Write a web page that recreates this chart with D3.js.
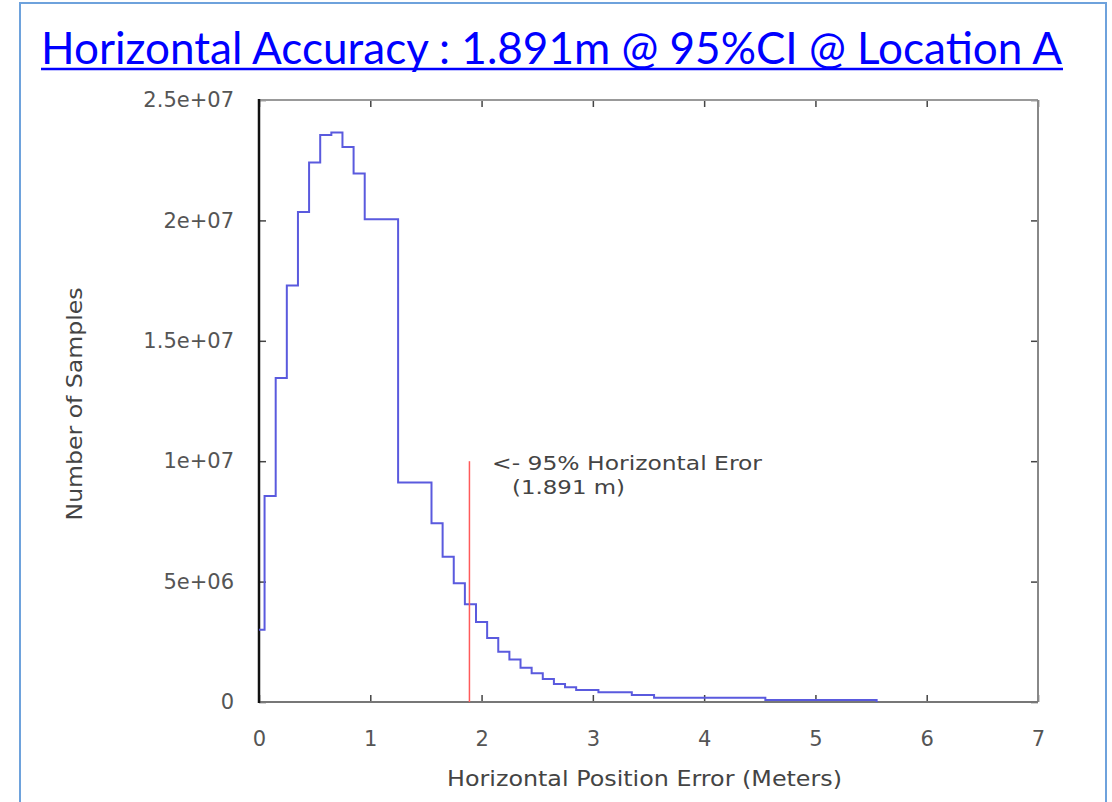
<!DOCTYPE html>
<html><head><meta charset="utf-8">
<script src="https://cdn.jsdelivr.net/npm/d3@7"></script>
<style>
html,body{margin:0;padding:0;background:#fff;}
svg{display:block;}
</style></head><body>
<svg id="chart" width="1112" height="802"></svg>
<script>
// ---- data ----
const titleText = "Horizontal Accuracy : 1.891m @ 95%CI @ Location A";
const xLabel = "Horizontal Position Error (Meters)";
const yLabel = "Number of Samples";
const noteLine1 = "<- 95% Horizontal Eror";
const noteLine2 = "(1.891 m)";
const xTicks = [0, 1, 2, 3, 4, 5, 6, 7];
const xTickLabels = ["0", "1", "2", "3", "4", "5", "6", "7"];
const yTicks = [0, 5e6, 1e7, 1.5e7, 2e7, 2.5e7];
const yTickLabels = ["0", "5e+06", "1e+07", "1.5e+07", "2e+07", "2.5e+07"];
// histogram steps: left edge of each step (m) and sample count
const binStart = [0, 0.05, 0.15, 0.25, 0.35, 0.45, 0.55, 0.65, 0.75, 0.85, 0.95, 1.25, 1.55, 1.65, 1.75, 1.85, 1.95, 2.05, 2.15, 2.25, 2.35, 2.45, 2.55, 2.65, 2.75, 2.85, 3.05, 3.35, 3.55, 4.55, 5.55];
const binCount = [3.0e6, 8.55e6, 13.45e6, 17.3e6, 20.35e6, 22.4e6, 23.55e6, 23.65e6, 23.05e6, 21.95e6, 20.05e6, 9.12e6, 7.42e6, 6.03e6, 4.93e6, 4.06e6, 3.32e6, 2.66e6, 2.09e6, 1.77e6, 1.42e6, 1.19e6, 0.95e6, 0.75e6, 0.61e6, 0.50e6, 0.40e6, 0.29e6, 0.18e6, 0.08e6, 0];
const ci95 = 1.891;
const ciMarkerTop = 1e7;
const xDomain = [0, 7];
const yDomain = [0, 2.5e7];

// ---- layout ----
const plot = {left: 259, right: 1038, top: 100, bottom: 702};
const svg = d3.select("#chart");
const font = "'DejaVu Sans', sans-serif";

// page frame
svg.append("path")
  .attr("d", "M20,802 V3 H1106 V802")
  .attr("fill", "none").attr("stroke", "#6ea2dc").attr("stroke-width", 2);

// title
svg.append("text")
  .attr("x", 41).attr("y", 64)
  .attr("font-family", "Lato, 'Open Sans', sans-serif")
  .attr("font-size", 45)
  .attr("fill", "#0000ff")
  .attr("textLength", 1021).attr("lengthAdjust", "spacingAndGlyphs")
  .text(titleText);
svg.append("line")
  .attr("x1", 41).attr("x2", 1063).attr("y1", 69).attr("y2", 69)
  .attr("stroke", "#0000ff").attr("stroke-width", 2.5);

const x = d3.scaleLinear().domain(xDomain).range([plot.left, plot.right]);
const y = d3.scaleLinear().domain(yDomain).range([plot.bottom, plot.top]);

// axes with inward ticks
function styleAxis(g) {
  g.select(".domain").remove();
  g.selectAll(".tick line").attr("stroke", "#444").attr("stroke-width", 1.5);
  g.selectAll(".tick text").attr("font-family", font).attr("font-size", 21).attr("fill", "#555");
}
const gx = svg.append("g").attr("transform", `translate(0,${plot.bottom})`)
  .call(d3.axisBottom(x).tickValues(xTicks).tickSize(-7).tickPadding(29)
        .tickFormat((d, i) => xTickLabels[i]));
styleAxis(gx);
const gxt = svg.append("g").attr("transform", `translate(0,${plot.top})`)
  .call(d3.axisTop(x).tickValues(xTicks).tickSize(-7).tickFormat(""));
styleAxis(gxt);
const gy = svg.append("g").attr("transform", `translate(${plot.left},0)`)
  .call(d3.axisLeft(y).tickValues(yTicks).tickSize(-7).tickPadding(25)
        .tickFormat((d, i) => yTickLabels[i]));
styleAxis(gy);
const gyr = svg.append("g").attr("transform", `translate(${plot.right},0)`)
  .call(d3.axisRight(y).tickValues(yTicks).tickSize(-7).tickFormat(""));
styleAxis(gyr);

// border
svg.append("line").attr("x1", plot.left).attr("x2", plot.right).attr("y1", plot.top).attr("y2", plot.top)
  .attr("stroke", "#999").attr("stroke-width", 2);
svg.append("line").attr("x1", plot.right).attr("x2", plot.right).attr("y1", plot.top).attr("y2", plot.bottom)
  .attr("stroke", "#888").attr("stroke-width", 2);
svg.append("line").attr("x1", plot.left).attr("x2", plot.right).attr("y1", plot.bottom).attr("y2", plot.bottom)
  .attr("stroke", "#777").attr("stroke-width", 2);
svg.append("line").attr("x1", plot.left).attr("x2", plot.left).attr("y1", plot.top - 1).attr("y2", plot.bottom + 1)
  .attr("stroke", "#111").attr("stroke-width", 2.5);

// histogram steps
const pts = binStart.map((b, i) => [b, binCount[i]]);
svg.append("path")
  .datum(pts)
  .attr("fill", "none")
  .attr("stroke", "#5a5ade")
  .attr("stroke-width", 2)
  .attr("d", d3.line().x(d => x(d[0])).y(d => y(d[1])).curve(d3.curveStepAfter));

// 95% marker
svg.append("line")
  .attr("x1", x(ci95)).attr("x2", x(ci95))
  .attr("y1", y(0)).attr("y2", y(ciMarkerTop))
  .attr("stroke", "#ff5a5a").attr("stroke-width", 1.5);

// annotation
svg.append("text").attr("x", 492).attr("y", 470)
  .attr("font-family", font).attr("font-size", 20).attr("fill", "#444")
  .attr("textLength", 270).attr("lengthAdjust", "spacingAndGlyphs")
  .text(noteLine1);
svg.append("text").attr("x", 512).attr("y", 494)
  .attr("font-family", font).attr("font-size", 20).attr("fill", "#444")
  .attr("textLength", 113).attr("lengthAdjust", "spacingAndGlyphs")
  .text(noteLine2);

// axis titles
svg.append("text").attr("x", 644.5).attr("y", 786)
  .attr("text-anchor", "middle")
  .attr("font-family", font).attr("font-size", 21).attr("fill", "#444")
  .attr("textLength", 395).attr("lengthAdjust", "spacingAndGlyphs")
  .text(xLabel);
svg.append("text")
  .attr("transform", "translate(82,404) rotate(-90)")
  .attr("text-anchor", "middle")
  .attr("font-family", font).attr("font-size", 21).attr("fill", "#444")
  .attr("textLength", 233).attr("lengthAdjust", "spacingAndGlyphs")
  .text(yLabel);
</script>
</body></html>
